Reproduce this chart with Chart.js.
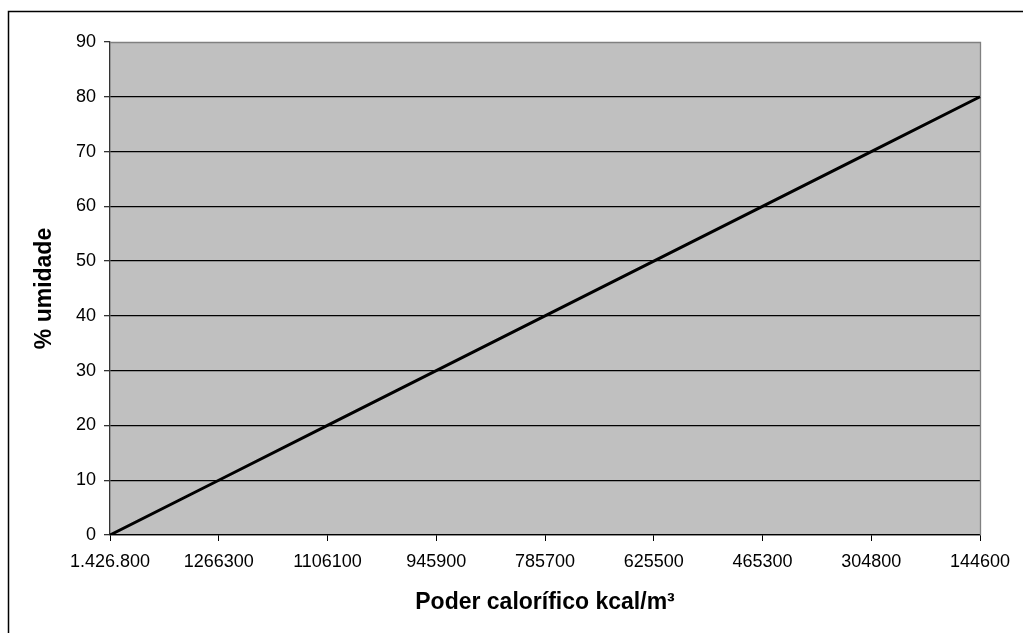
<!DOCTYPE html>
<html>
<head>
<meta charset="utf-8">
<script src="https://cdn.jsdelivr.net/npm/chart.js@4/dist/chart.umd.min.js"></script>
<style>
html,body{margin:0;padding:0;background:#fff;}
#wrap{width:1023px;height:633px;position:relative;}
</style>
</head>
<body>
<div id="wrap"><canvas id="c" width="1023" height="633"></canvas></div>
<script>
const categories = ['1.426.800','1266300','1106100','945900','785700','625500','465300','304800','144600'];
const umidade = [0,10,20,30,40,50,60,70,80];
const yTicks = {min:0, max:90, step:10};
const xTitle = 'Poder calorífico kcal/m³';
const yTitle = '% umidade';

const FONT = '"Liberation Sans", Arial, sans-serif';

const framePlugin = {
  id:'frame',
  beforeDraw(chart){
    const {ctx, chartArea:a} = chart;
    ctx.save();
    ctx.fillStyle = '#fff';
    ctx.fillRect(0,0,chart.width,chart.height);
    ctx.strokeStyle = '#000';
    ctx.lineWidth = 1.5;
    ctx.strokeRect(8.5, 11.5, 1200, 1000);
    ctx.fillStyle = '#C0C0C0';
    ctx.fillRect(a.left, a.top, a.right-a.left, a.bottom-a.top);
    ctx.restore();
  },
  beforeDatasetsDraw(chart){
    const {ctx, chartArea:a} = chart;
    ctx.save();
    ctx.strokeStyle = '#808080';
    ctx.lineWidth = 1.3;
    ctx.beginPath();
    ctx.moveTo(a.left, a.top+0.5);
    ctx.lineTo(a.right+0.5, a.top+0.5);
    ctx.lineTo(a.right+0.5, a.bottom);
    ctx.stroke();
    ctx.restore();
  }
};

new Chart(document.getElementById('c'), {
  type:'line',
  data:{
    labels: categories,
    datasets:[{
      data: umidade,
      borderColor:'#000',
      borderWidth:3,
      pointRadius:0,
      fill:false,
      tension:0
    }]
  },
  options:{
    responsive:false,
    animation:false,
    devicePixelRatio:1,
    layout:{padding:{left:0, top:42, right:43, bottom:0}},
    plugins:{legend:{display:false}, tooltip:{enabled:false}},
    scales:{
      x:{
        type:'category',
        offset:false,
        afterFit(s){ s.height = 98; },
        grid:{display:true, drawOnChartArea:false, drawTicks:true, tickLength:6, color:'#000', tickColor:'#000'},
        border:{display:true, color:'#000', width:1.3},
        ticks:{color:'#000', font:{family:FONT, size:18}, padding:10, autoSkip:false, maxRotation:0, minRotation:0},
        title:{display:true, text:xTitle, color:'#000', font:{family:FONT, size:23, weight:'bold'}, padding:{top:0, bottom:17}}
      },
      y:{
        min:yTicks.min, max:yTicks.max,
        afterFit(s){ s.width = 110; },
        grid:{
          drawOnChartArea:true, drawTicks:true, tickLength:6,
          color:(c)=> (c.tick && c.tick.value===yTicks.max) ? 'rgba(0,0,0,0)' : '#000',
          lineWidth:1.3,
          tickColor:'#333'
        },
        border:{display:true, color:'#333', width:1.3},
        ticks:{stepSize:yTicks.step, color:'#000', font:{family:FONT, size:18}, padding:8},
        title:{display:true, text:yTitle, color:'#000', font:{family:FONT, size:23, weight:'bold'}, padding:{top:31, bottom:0}}
      }
    }
  },
  plugins:[framePlugin]
});
</script>
</body>
</html>
